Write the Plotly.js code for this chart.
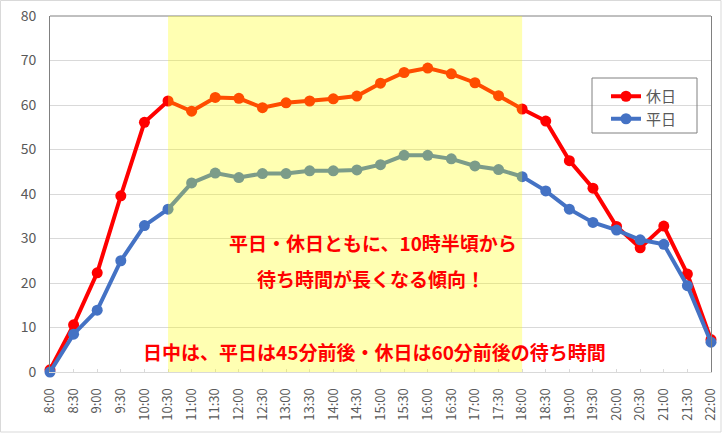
<!DOCTYPE html>
<html>
<head>
<meta charset="utf-8">
<script src="https://cdn.plot.ly/plotly-3.0.1.min.js"></script>
<style>
  html, body { margin: 0; padding: 0; background: #fff; }
  #chart { width: 722px; height: 433px; }
</style>
</head>
<body>
<div id="chart"></div>
<script>
const timeLabels = ['8:00','8:30','9:00','9:30','10:00','10:30','11:00','11:30','12:00','12:30','13:00','13:30','14:00','14:30','15:00','15:30','16:00','16:30','17:00','17:30','18:00','18:30','19:00','19:30','20:00','20:30','21:00','21:30','22:00'];
const holidayWait = [0.5, 10.6, 22.3, 39.6, 56.1, 60.9, 58.6, 61.7, 61.5, 59.4, 60.5, 60.9, 61.4, 62.0, 64.9, 67.3, 68.3, 67.0, 65.0, 62.1, 59.1, 56.4, 47.5, 41.3, 32.7, 27.9, 32.8, 22.0, 7.3];
const weekdayWait = [0, 8.5, 13.9, 25.0, 32.9, 36.6, 42.5, 44.7, 43.7, 44.6, 44.6, 45.2, 45.2, 45.4, 46.6, 48.7, 48.7, 47.9, 46.3, 45.5, 43.9, 40.7, 36.6, 33.6, 31.9, 29.7, 28.7, 19.4, 6.7];
const seriesNames = ['休日', '平日'];
const peakStart = '10:30';
const peakEnd = '18:00';
const noteLines = ['平日・休日ともに、10時半頃から', '待ち時間が長くなる傾向！', '日中は、平日は45分前後・休日は60分前後の待ち時間'];

const day = '2024-01-01 ';
const xs = timeLabels.map(t => day + t);
const FONT = '"Noto Sans CJK JP", "Noto Sans", sans-serif';

const traces = [
  { x: xs, y: holidayWait, name: seriesNames[0], type: 'scatter', mode: 'lines+markers',
    line: { color: '#FF0000', width: 4 }, marker: { color: '#FF0000', size: 11 }, cliponaxis: false },
  { x: xs, y: weekdayWait, name: seriesNames[1], type: 'scatter', mode: 'lines+markers',
    line: { color: '#4472C4', width: 4 }, marker: { color: '#4472C4', size: 11 }, cliponaxis: false }
];

const L = 50, R = 11, T = 16, B = 61, W = 722, H = 433;
const pw = W - L - R, ph = H - T - B;
const px = v => (v - L) / pw;
const py = v => (H - B - v) / ph;

const layout = {
  width: W, height: H,
  margin: { l: L, r: R, t: T, b: B },
  paper_bgcolor: '#ffffff', plot_bgcolor: '#ffffff',
  font: { family: FONT, color: '#595959' },
  showlegend: true,
  legend: { x: px(606), y: py(80), xanchor: 'left', yanchor: 'top', bgcolor: 'rgba(0,0,0,0)',
            borderwidth: 0, font: { size: 15, color: '#595959', family: FONT }, itemwidth: 30, tracegroupgap: 6 },
  xaxis: {
    type: 'date',
    range: [day + timeLabels[0], day + timeLabels[timeLabels.length - 1]],
    tickmode: 'linear', tick0: day + timeLabels[0], dtick: 1800000,
    tickformat: '%-H:%M', tickangle: -90,
    tickfont: { size: 13, color: '#595959', family: FONT },
    ticks: 'inside', ticklen: 3, tickcolor: '#d9d9d9',
    ticklabelstandoff: 10,
    showgrid: false,
    minor: { tick0: day + timeLabels[0], dtick: 3600000, showgrid: true, gridcolor: '#d9d9d9', gridwidth: 1, ticks: '' },
    showline: true, linecolor: '#d9d9d9', linewidth: 1,
    zeroline: false, fixedrange: true
  },
  yaxis: {
    range: [0, 80], dtick: 10, tick0: 0,
    tickfont: { size: 14, color: '#595959', family: FONT },
    showgrid: true, gridcolor: '#d9d9d9', gridwidth: 1,
    showline: true, mirror: true, linecolor: '#808080', linewidth: 1,
    ticks: '', ticklabelstandoff: 10,
    zeroline: false, fixedrange: true
  },
  shapes: [
    { type: 'line', xref: 'paper', yref: 'paper', x0: 0, x1: 1, y0: 1, y1: 1, line: { color: '#808080', width: 1 } },
    { type: 'rect', xref: 'x', yref: 'paper', x0: day + peakStart, x1: day + peakEnd, y0: 0, y1: 1,
      fillcolor: '#FFFF00', opacity: 0.3, line: { width: 0 }, layer: 'above' },
    { type: 'rect', xref: 'paper', yref: 'paper', x0: px(592), x1: px(697), y0: py(133), y1: py(78),
      line: { color: '#808080', width: 1 }, fillcolor: 'rgba(0,0,0,0)', layer: 'above' },
    { type: 'rect', xref: 'paper', yref: 'paper', x0: px(0.5), x1: px(721), y0: py(432), y1: py(0.5),
      line: { color: '#d9d9d9', width: 1 }, fillcolor: 'rgba(0,0,0,0)', layer: 'below' }
  ],
  annotations: [
    { xref: 'paper', yref: 'paper', x: px(373), y: py(243), text: '<b>' + noteLines[0] + '</b>', showarrow: false,
      xanchor: 'center', yanchor: 'middle', font: { size: 19, color: '#FF0000', family: FONT } },
    { xref: 'paper', yref: 'paper', x: px(371), y: py(278), text: '<b>' + noteLines[1] + '</b>', showarrow: false,
      xanchor: 'center', yanchor: 'middle', font: { size: 19, color: '#FF0000', family: FONT } },
    { xref: 'paper', yref: 'paper', x: px(374), y: py(351), text: '<b>' + noteLines[2] + '</b>', showarrow: false,
      xanchor: 'center', yanchor: 'middle', font: { size: 19, color: '#FF0000', family: FONT } }
  ]
};

Plotly.newPlot('chart', traces, layout, { displayModeBar: false, staticPlot: true });
</script>
</body>
</html>
